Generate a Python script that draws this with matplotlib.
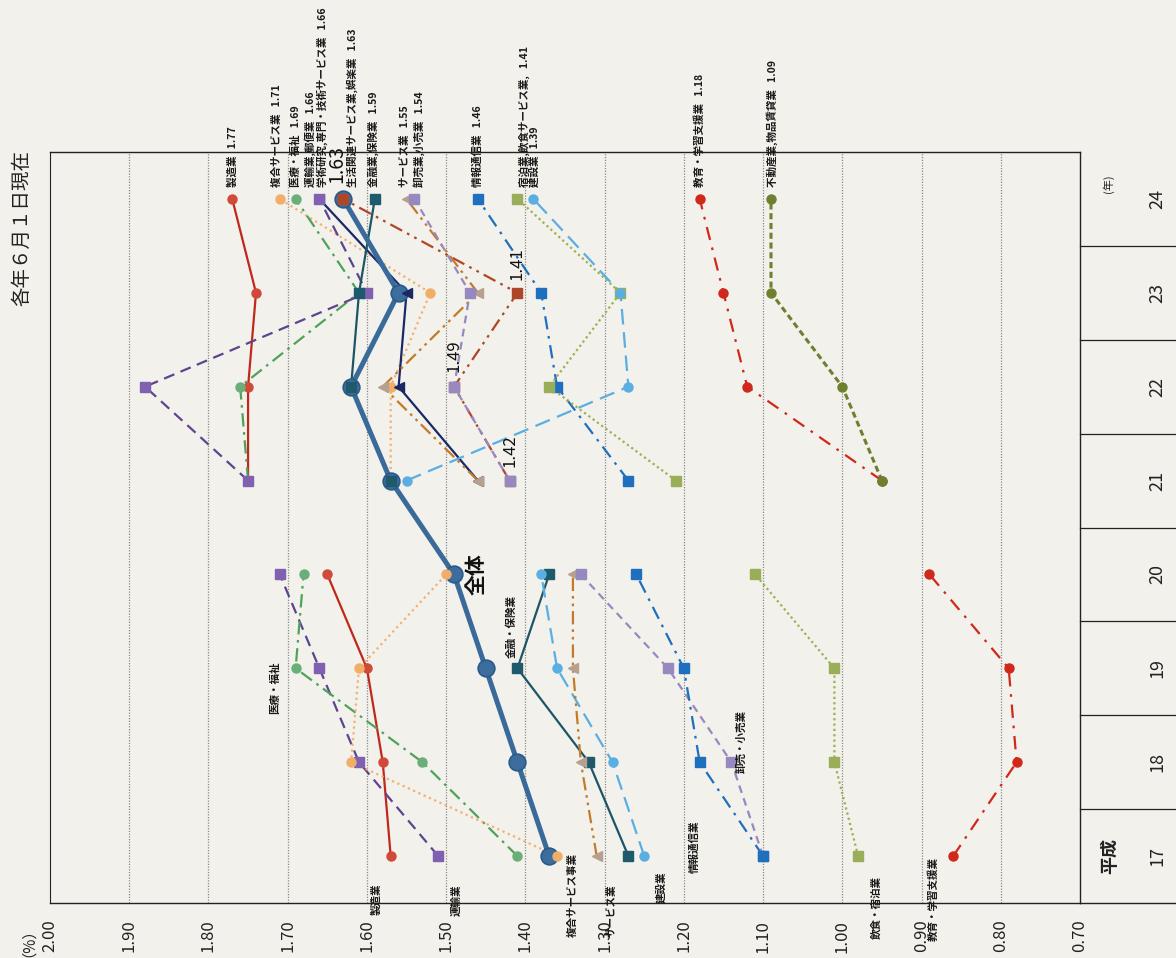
import matplotlib
matplotlib.use('Agg')
import matplotlib.pyplot as plt
import matplotlib.transforms as mtrans

plt.rcParams['font.family'] = ['Noto Sans CJK JP', 'DejaVu Sans']

# ---------------- data ----------------
years_old = [17, 18, 19, 20]
years_new = [21, 22, 23, 24]
years_all = years_old + years_new
year_labels = ['17', '18', '19', '20', '21', '22', '23', '24']
value_ticks = [0.70, 0.80, 0.90, 1.00, 1.10, 1.20, 1.30, 1.40, 1.50, 1.60, 1.70, 1.80, 1.90, 2.00]

total = [1.37, 1.41, 1.45, 1.49, 1.57, 1.62, 1.56, 1.63]

# H17-H20 (old classification)
old_seizo = [1.57, 1.58, 1.60, 1.65]
old_unyu = [1.51, 1.61, 1.66, 1.71]
old_iryo = [1.41, 1.53, 1.69, 1.68]
old_fukugo = [1.36, 1.62, 1.61, 1.50]
old_kinyu = [1.27, 1.32, 1.41, 1.37]
old_kensetsu = [1.25, 1.29, 1.36, 1.38]
old_service = [1.31, 1.33, 1.34, 1.34]
old_oroshi = [1.10, 1.14, 1.22, 1.33]
old_joho = [1.10, 1.18, 1.20, 1.26]
old_inshoku = [0.98, 1.01, 1.01, 1.11]
old_kyoiku = [0.86, 0.78, 0.79, 0.89]

# H21-H24 (new classification)
new_seizo = [1.75, 1.75, 1.74, 1.77]
new_fukugo = [1.57, 1.57, 1.52, 1.71]
new_iryo = [1.75, 1.76, 1.61, 1.69]
new_unyu = [1.46, 1.56, 1.55, 1.66]
new_gakujutsu = [1.75, 1.88, 1.60, 1.66]
new_seikatsu = [1.42, 1.49, 1.41, 1.63]
new_kinyu = [1.57, 1.62, 1.61, 1.59]
new_service = [1.46, 1.58, 1.46, 1.55]
new_oroshi = [1.42, 1.49, 1.47, 1.54]
new_joho = [1.27, 1.36, 1.38, 1.46]
new_shukuhaku = [1.21, 1.37, 1.28, 1.41]
new_kensetsu = [1.55, 1.27, 1.28, 1.39]
new_kyoiku = [0.95, 1.12, 1.15, 1.18]
new_fudosan = [0.95, 1.00, 1.09, 1.09]

new_names = ['製造業', '複合サービス業', '医療・福祉', '運輸業,郵便業',
             '学術研究,専門・技術サービス業', '生活関連サービス業,娯楽業',
             '金融業,保険業', 'サービス業', '卸売業,小売業', '情報通信業',
             '宿泊業,飲食サービス業,', '建設業', '教育・学習支援業',
             '不動産業,物品賃貸業']
old_names = ['製造業', '運輸業', '医療・福祉', '複合サービス事業', '金融・保険業',
             '建設業', 'サービス業', '卸売・小売業', '情報通信業',
             '飲食・宿泊業', '教育・学習支援業']

# ---------------- styles ----------------
C = dict(
    seizo=('#C0281C', '#D04A3A', '-', 'o'),
    iryo=('#4FA25A', '#6AAE7A', (0, (6, 2.5, 1.2, 2.5)), 'o'),
    purple=('#5E4490', '#8060B0', (0, (5, 3)), 's'),
    fukugo=('#F2B070', '#F0AE68', (0, (1, 1.6)), 'o'),
    kinyu=('#1E5566', '#1E5A6C', '-', 's'),
    kensetsu=('#5AAEE2', '#5AAEE2', (0, (7, 3.5)), 'o'),
    service=('#C47A2A', '#B8A090', (0, (6, 2.2, 1.2, 2.2, 1.2, 2.2)), '<'),
    oroshi=('#9888C0', '#9888C0', (0, (3.5, 2.5)), 's'),
    joho=('#1F6FBF', '#1F6FBF', (0, (6, 3, 1.2, 3)), 's'),
    inshoku=('#9CB050', '#9AAE5A', (0, (1, 1.4)), 's'),
    kyoiku=('#D0281A', '#D0281A', (0, (6, 3.5, 1.2, 3.5)), 'o'),
    fudosan=('#6E8030', '#6E8030', (0, (2, 1.2)), 'o'),
    seikatsu=('#B04628', '#B04628', (0, (6, 2.5, 1.2, 2.5, 1.2, 2.5)), 's'),
    unyu_new=('#1A2866', '#1A2866', '-', '<'),
)

old_series = [
    (old_seizo, 'seizo'), (old_unyu, 'purple'), (old_iryo, 'iryo'),
    (old_fukugo, 'fukugo'), (old_kinyu, 'kinyu'), (old_kensetsu, 'kensetsu'),
    (old_service, 'service'), (old_oroshi, 'oroshi'), (old_joho, 'joho'),
    (old_inshoku, 'inshoku'), (old_kyoiku, 'kyoiku'),
]
new_series = [
    (new_seizo, 'seizo'), (new_fukugo, 'fukugo'), (new_iryo, 'iryo'),
    (new_unyu, 'unyu_new'), (new_gakujutsu, 'purple'), (new_seikatsu, 'seikatsu'),
    (new_kinyu, 'kinyu'), (new_service, 'service'), (new_oroshi, 'oroshi'),
    (new_joho, 'joho'), (new_shukuhaku, 'inshoku'), (new_kensetsu, 'kensetsu'),
    (new_kyoiku, 'kyoiku'), (new_fudosan, 'fudosan'),
]

BG = '#F2F1EC'
W, H = 1176, 958
fig = plt.figure(figsize=(W / 100, H / 100), dpi=100, facecolor=BG)
ax = fig.add_axes([50 / W, 55 / H, 1030 / W, 751 / H], facecolor=BG)
ax.set_xlim(2.00, 0.70)
ax.set_ylim(16.5, 24.5)

for v in value_ticks[1:-1]:
    ax.axvline(v, color='#8A8A8A', lw=0.9, ls=(0, (1, 1.2)), zorder=1)

def draw(vals, yrs, key, lw=1.6):
    lc, mc, ls, mk = C[key]
    ax.plot(vals, yrs, color=lc, lw=lw, ls=ls, zorder=2, solid_capstyle='round')
    ax.plot(vals, yrs, ls='none', marker=mk, ms=6.5 if mk != '<' else 7,
            mfc=mc, mec=mc, zorder=4)

# overall (drawn beneath other markers)
ax.plot(total, years_all, color='#3A6A9A', lw=3.6, zorder=3)
ax.plot(total, years_all, ls='none', marker='o', ms=12, mfc='#3D6D9D',
        mec='#2A5A8A', mew=1.2, zorder=3)

for vals, key in old_series:
    draw(vals, years_old, key)
for vals, key in new_series:
    lw = 2.2 if key == 'fudosan' else 1.6
    draw(vals, years_new, key, lw=lw)

# ---------------- labels (H24 top) ----------------
label_dx = [0, 0.004, 0, 0.012, -0.004, -0.012, 0.002, 0.002, -0.006, 0,
            -0.009, -0.002, 0, -0.002]
for (vals, key), name, dx in zip(new_series, new_names, label_dx):
    ax.text(vals[-1] + dx, 24.13, f'{name}   {vals[-1]:.2f}', rotation=90,
            ha='center', va='bottom', fontsize=7.6, fontweight='bold', color='#1a1a1a',
            zorder=6)

ax.text(total[-1] + 0.008, 24.17, f'{total[-1]:.2f}', rotation=90, ha='center',
        va='bottom', fontsize=14, color='#111', zorder=6)

for i, dy in zip([2, 1, 0], [0.14, 0.16, 0.14]):
    ax.text(new_seikatsu[i], years_new[i] + dy, f'{new_seikatsu[i]:.2f}', rotation=90,
            ha='center', va='bottom', fontsize=12, color='#111', zorder=6)

# ---------------- labels (old classification) ----------------
old_label_pos = [(1.588, 16.54), (1.487, 16.53), (1.716, 18.79), (1.340, 16.59),
                 (1.418, 19.45), (1.228, 16.67), (1.291, 16.42), (1.128, 18.22),
                 (1.187, 17.10), (0.957, 16.45), (0.885, 16.54)]
for name, (x, y) in zip(old_names, old_label_pos):
    ax.text(x, y, name, rotation=90, ha='center', va='center', fontsize=7.6,
            fontweight='bold', color='#1a1a1a', zorder=6)

ax.text(1.462, 20.0, '全体', rotation=90, ha='center', va='center', fontsize=15,
        fontweight='bold', color='#111', zorder=6)

# ---------------- axes decorations ----------------
ax.set_xticks(value_ticks)
ax.set_xticklabels([f'{t:.2f}' for t in value_ticks], rotation=90, fontsize=12,
                   color='#222')
ax.tick_params(axis='x', length=0, pad=12)
ax.set_yticks([])
for s in ax.spines.values():
    s.set_color('#222')
    s.set_linewidth(1.0)
ax.spines['left'].set_linewidth(0.8)

ext = (W - 50) / 1030
ax.plot([1.0, ext], [0, 0], transform=ax.transAxes, color='#222', lw=1.0,
        clip_on=False)
blend = mtrans.blended_transform_factory(ax.transAxes, ax.transData)
for k in range(1, len(years_all)):
    yb = years_all[0] - 0.5 + k
    ax.plot([1.0, ext], [yb, yb], transform=blend, color='#222', lw=0.9,
            clip_on=False)
for yr, lab in zip(years_all, year_labels):
    ax.text((1157 - 50) / 1030, yr, lab, transform=blend, rotation=90, ha='center',
            va='center', fontsize=13, color='#222')
ax.text((1110 - 50) / 1030, years_all[0], '平成', transform=blend, rotation=90,
        ha='center', va='center', fontsize=13, fontweight='bold', color='#222')
ax.text((1108 - 50) / 1030, years_all[-1] + 0.16, '(年)', transform=blend,
        rotation=90, ha='center', va='center', fontsize=8, color='#222')

fig.text(20 / W, 1 - 935 / H, '（%）', rotation=90, ha='center', va='center',
         fontsize=11, color='#222')
fig.text(22 / W, 1 - 228 / H, '各年６月１日現在', rotation=90, ha='center',
         va='center', fontsize=14, color='#222')

fig.savefig('out.png', dpi=100, facecolor=BG)
